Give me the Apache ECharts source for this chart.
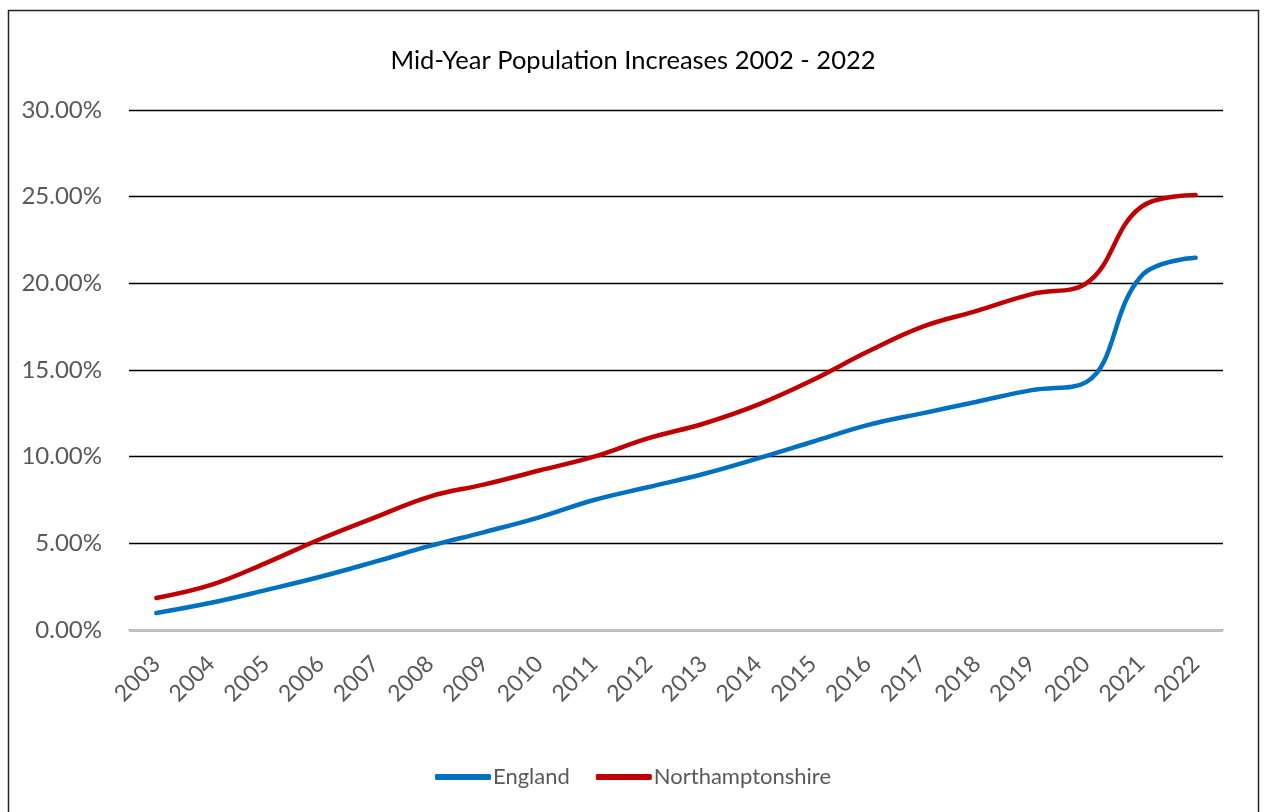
<!DOCTYPE html>
<html>
<head>
<meta charset="utf-8">
<script src="https://cdn.jsdelivr.net/npm/echarts@6/dist/echarts.min.js"></script>
<style>html,body{margin:0;padding:0;background:#fff}#c{width:1266px;height:812px}</style>
</head>
<body>
<div id="c"></div>
<script>
const years = ['2003','2004','2005','2006','2007','2008','2009','2010','2011','2012','2013','2014','2015','2016','2017','2018','2019','2020','2021','2022'];
const england = [0.98,1.57,2.30,3.07,3.94,4.85,5.65,6.50,7.50,8.25,9.00,9.90,10.86,11.82,12.50,13.17,13.84,14.30,20.40,21.47];
const northants = [1.85,2.60,3.86,5.25,6.50,7.70,8.40,9.20,10.00,11.07,11.90,13.00,14.42,16.05,17.49,18.41,19.38,20.00,24.40,25.09];
const yTicks = [0,5,10,15,20,25,30];

const chart = echarts.init(document.getElementById('c'));
const FONT = 'Lato';
chart.setOption({
  animation: false,
  backgroundColor: '#fff',
  textStyle: { fontFamily: FONT },
  graphic: [{
    type: 'rect', shape: { x: 8.5, y: 10.5, width: 1250, height: 820 },
    style: { fill: 'none', stroke: '#222', lineWidth: 1.5 }, silent: true
  }],
  title: {
    text: 'Mid-Year Population Increases 2002 - 2022',
    left: 'center', top: 43,
    textStyle: { fontFamily: FONT, fontSize: 25.5, fontWeight: 'normal', color: '#000' }
  },
  legend: {
    bottom: 19, left: 'center',
    icon: 'roundRect', itemWidth: 56, itemHeight: 6, itemGap: 26,
    textStyle: { fontFamily: FONT, fontSize: 22, color: '#595959', padding: [0,0,0,-3] },
    data: ['England', 'Northamptonshire']
  },
  grid: { left: 129, right: 43, top: 110, bottom: 182 },
  xAxis: {
    type: 'category', data: years, boundaryGap: true,
    axisLine: { lineStyle: { color: '#c0c0c0', width: 2 } },
    axisTick: { show: false },
    axisLabel: { rotate: 45, fontFamily: FONT, fontSize: 23, color: '#595959', margin: 30, interval: 0 }
  },
  yAxis: {
    type: 'value', min: yTicks[0], max: yTicks[yTicks.length-1], interval: 5,
    axisLine: { show: false }, axisTick: { show: false },
    axisLabel: { fontFamily: FONT, fontSize: 24, color: '#595959', margin: 27,
      formatter: v => v.toFixed(2) + '%' },
    splitLine: { lineStyle: { color: '#000', width: 1.3 } }
  },
  series: [
    { name: 'England', type: 'line', data: england, smooth: 0.4, showSymbol: false,
      lineStyle: { color: '#0070C0', width: 4.5, cap: 'round' }, itemStyle: { color: '#0070C0' } },
    { name: 'Northamptonshire', type: 'line', data: northants, smooth: 0.4, showSymbol: false,
      lineStyle: { color: '#C00000', width: 4.5, cap: 'round' }, itemStyle: { color: '#C00000' } }
  ]
});
</script>
</body>
</html>
